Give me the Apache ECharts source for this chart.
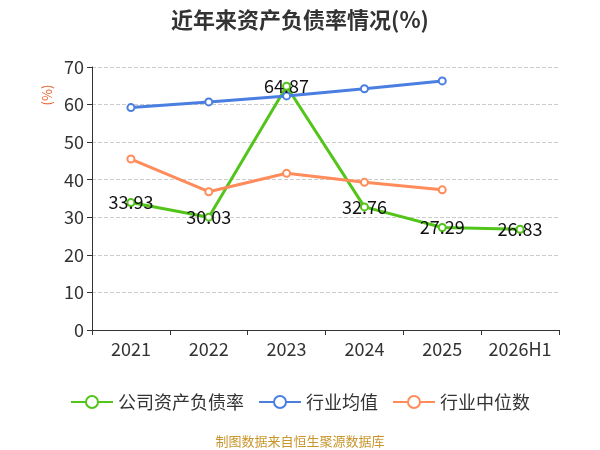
<!DOCTYPE html>
<html>
<head>
<meta charset="utf-8">
<script src="https://cdn.jsdelivr.net/npm/echarts@6/dist/echarts.min.js"></script>
<style>
  html, body { margin: 0; padding: 0; }
  #chart { width: 600px; height: 450px; }
</style>
</head>
<body>
<div id="chart"></div>
<script>
// 资产负债率数据
const years = ['2021', '2022', '2023', '2024', '2025', '2026H1'];
const companyRatio = [33.93, 30.03, 64.87, 32.76, 27.29, 26.83];
const industryAvg = [59.2, 60.7, 62.3, 64.2, 66.3, null];
const industryMedian = [45.5, 36.8, 41.7, 39.3, 37.3, null];

const font = '"Noto Sans CJK SC", "Noto Sans", sans-serif';

const chart = echarts.init(document.getElementById('chart'));
const option = {
    textStyle: { fontFamily: font },
    title: {
        text: '近年来资产负债率情况(%)',
        left: 'center',
        top: 4,
        textStyle: { fontSize: 22, fontWeight: 'bold', color: '#333', fontFamily: font }
    },
    legend: {
        bottom: 34,
        itemWidth: 42,
        itemHeight: 15,
        itemGap: 14,
        lineStyle: { width: 2 },
        textStyle: { fontSize: 18, color: '#333', fontFamily: font },
        data: ['公司资产负债率', '行业均值', '行业中位数']
    },
    graphic: [
        {
            type: 'text',
            left: 'center',
            bottom: 2,
            style: { text: '制图数据来自恒生聚源数据库', fill: '#c8962d', fontSize: 13, fontFamily: font }
        },
        {
            type: 'text',
            x: 47,
            y: 95,
            rotation: Math.PI / 2,
            style: {
                text: '(%)', fill: '#e8602c', fontSize: 13, fontFamily: font,
                align: 'center', verticalAlign: 'middle'
            }
        }
    ],
    grid: { left: 92, right: 41, top: 67, bottom: 120 },
    xAxis: {
        type: 'category',
        data: years,
        boundaryGap: true,
        axisLine: { lineStyle: { color: '#333' } },
        axisTick: { show: true, length: 5, lineStyle: { color: '#333' } },
        axisLabel: { interval: 0, fontSize: 18, color: '#333', margin: 10 }
    },
    yAxis: {
        type: 'value',
        min: 0,
        max: 70,
        interval: 10,
        axisLine: { show: true, lineStyle: { color: '#333' } },
        axisTick: { show: true, length: 5, lineStyle: { color: '#333' } },
        axisLabel: { fontSize: 18, color: '#333', margin: 8 },
        splitLine: { lineStyle: { type: 'dashed', color: '#ccc' } }
    },
    series: [
        {
            name: '公司资产负债率',
            type: 'line',
            data: companyRatio,
            symbol: 'emptyCircle',
            symbolSize: 7,
            z: 3,
            lineStyle: { width: 3, color: '#52c41a' },
            itemStyle: { color: '#52c41a' },
            label: {
                show: true,
                position: 'inside',
                color: '#111',
                fontSize: 18,
                fontFamily: font
            }
        },
        {
            name: '行业均值',
            type: 'line',
            data: industryAvg,
            symbol: 'emptyCircle',
            symbolSize: 7,
            lineStyle: { width: 3, color: '#4a7ee0' },
            itemStyle: { color: '#4a7ee0' }
        },
        {
            name: '行业中位数',
            type: 'line',
            data: industryMedian,
            symbol: 'emptyCircle',
            symbolSize: 7,
            lineStyle: { width: 3, color: '#ff8c5a' },
            itemStyle: { color: '#ff8c5a' }
        }
    ]
};
chart.setOption(option);
</script>
</body>
</html>
